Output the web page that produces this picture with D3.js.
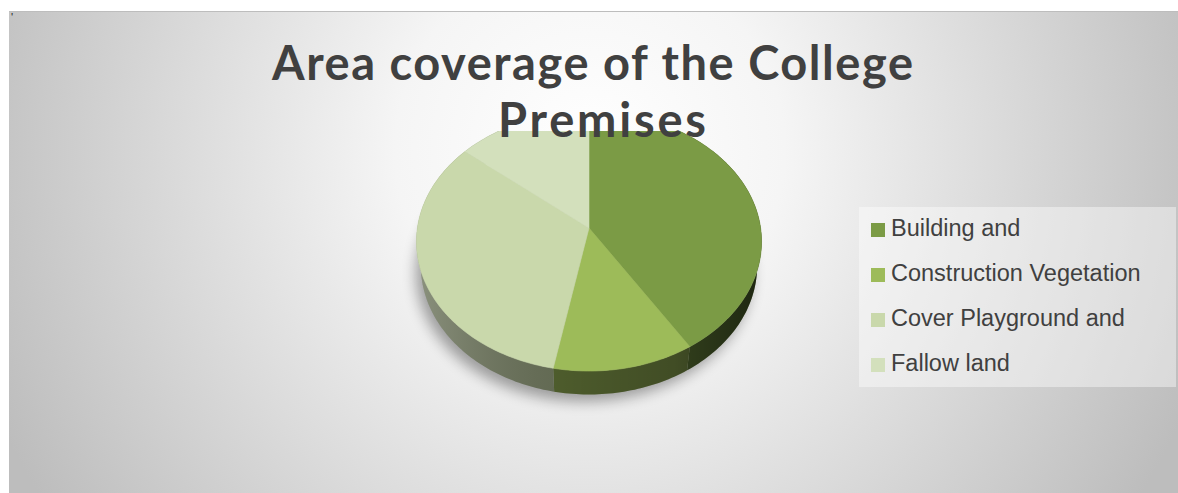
<!DOCTYPE html>
<html>
<head>
<meta charset="utf-8">
<script src="https://cdn.jsdelivr.net/npm/d3@7"></script>
<style>
  html, body { margin: 0; padding: 0; background: #ffffff; }
  svg { display: block; }
</style>
</head>
<body>
<svg id="chart" width="1178" height="493"></svg>
<script>
// ---- data ----
const categories = ["Building and", "Construction Vegetation", "Cover Playground and", "Fallow land"];
const values = [41, 12, 33, 14];
const titleLines = ["Area coverage of the College", "Premises"];

// ---- styles ----
const palette = ["#7b9b45", "#9dbb59", "#c9d8ab", "#d3e0bc"];
const textColor = "#404040";

const svg = d3.select("#chart");
const defs = svg.append("defs");

// chart area background: soft radial light
const bg = defs.append("radialGradient")
  .attr("id", "bgGrad").attr("gradientUnits", "userSpaceOnUse")
  .attr("cx", 590).attr("cy", 150).attr("r", 650);
bg.append("stop").attr("offset", 0).attr("stop-color", "#ffffff");
bg.append("stop").attr("offset", 0.3).attr("stop-color", "#f5f5f5");
bg.append("stop").attr("offset", 1).attr("stop-color", "#bdbdbd");

svg.append("rect").attr("x", 9).attr("y", 11).attr("width", 1169).attr("height", 482)
  .attr("fill", "url(#bgGrad)");
svg.append("line").attr("x1", 9).attr("x2", 1178).attr("y1", 11.5).attr("y2", 11.5)
  .attr("stroke", "#bdbdbd").attr("stroke-width", 1);
svg.append("text").attr("x", 11).attr("y", 21).attr("font-size", 11)
  .attr("font-family", "Liberation Sans, sans-serif").attr("fill", "#222").text("'");

// ---- 3D pie projection ----
const cx = 589, cy = 228;      // projected centre of the top face
const R = 171.6;               // radius
const tilt = 48.3 * Math.PI / 180;
const camDist = 1094;
const depth = 38;              // thickness of the pie

function project(theta, r, h) {
  const u = -r * Math.cos(theta);          // toward viewer is positive
  const x3 = r * Math.sin(theta);
  const s = camDist / (camDist - u * Math.cos(tilt) + h * Math.sin(tilt));
  return [cx + x3 * s, cy + (u * Math.sin(tilt) + h * Math.cos(tilt)) * s];
}

function arcPoints(a0, a1, h) {
  const n = Math.max(4, Math.ceil(Math.abs(a1 - a0) / 0.02));
  return d3.range(n + 1).map(i => project(a0 + (a1 - a0) * i / n, R, h));
}

const color = d3.scaleOrdinal().domain(categories).range(palette);
const pie = d3.pie().sort(null).value(d => d.value);
const slices = pie(categories.map((c, i) => ({ name: c, value: values[i] })));
const line = d3.line();

// soft shadow under the pie
const blur = defs.append("filter").attr("id", "shadowBlur")
  .attr("x", "-30%").attr("y", "-30%").attr("width", "160%").attr("height", "160%");
blur.append("feGaussianBlur").attr("stdDeviation", 7);

const shadowPts = arcPoints(0, 2 * Math.PI, depth).map(p => [p[0] - 5, p[1] + 7]);
svg.append("path").attr("d", line(shadowPts) + "Z")
  .attr("fill", "#000").attr("opacity", 0.35).attr("filter", "url(#shadowBlur)");

// side walls
const sideShade = defs.append("linearGradient")
  .attr("id", "sideShade").attr("gradientUnits", "userSpaceOnUse")
  .attr("x1", cx - R).attr("x2", cx + R).attr("y1", 0).attr("y2", 0);
sideShade.append("stop").attr("offset", 0).attr("stop-color", "#ffffff").attr("stop-opacity", 0.2);
sideShade.append("stop").attr("offset", 0.4).attr("stop-color", "#000000").attr("stop-opacity", 0.1);
sideShade.append("stop").attr("offset", 0.75).attr("stop-color", "#000000").attr("stop-opacity", 0.25);
sideShade.append("stop").attr("offset", 1).attr("stop-color", "#000000").attr("stop-opacity", 0.55);

const sides = svg.append("g");
slices.forEach(s => {
  const top = arcPoints(s.startAngle, s.endAngle, 0);
  const bot = arcPoints(s.startAngle, s.endAngle, depth).reverse();
  const d = line(top.concat(bot)) + "Z";
  sides.append("path").attr("d", d)
    .attr("fill", d3.color(color(s.data.name)).darker(1.7));
  sides.append("path").attr("d", d).attr("fill", "url(#sideShade)");
});

// top faces
const tops = svg.append("g");
slices.forEach(s => {
  const pts = [project(0, 0, 0)].concat(arcPoints(s.startAngle, s.endAngle, 0));
  tops.append("path").attr("d", line(pts) + "Z")
    .attr("fill", color(s.data.name))
    .attr("stroke", color(s.data.name)).attr("stroke-width", 0.6);
});

// ---- title (its box shares the chart background) ----
svg.append("rect").attr("x", 262).attr("y", 28).attr("width", 662).attr("height", 103)
  .attr("fill", "url(#bgGrad)");
const title = svg.append("g")
  .attr("font-family", "Lato, 'Liberation Sans', sans-serif")
  .attr("font-weight", "bold").attr("font-size", 47).attr("fill", textColor);
const titlePos = [{ x: 272, y: 80, w: 641 }, { x: 498, y: 137, w: 208 }];
titleLines.forEach((t, i) => {
  title.append("text").attr("x", titlePos[i].x).attr("y", titlePos[i].y)
    .attr("textLength", titlePos[i].w).attr("lengthAdjust", "spacing").text(t);
});

// ---- legend ----
const legend = svg.append("g");
legend.append("rect").attr("x", 859).attr("y", 207).attr("width", 317).attr("height", 180)
  .attr("fill", "#ffffff").attr("opacity", 0.42);
const rowY = d3.scalePoint().domain(categories).range([223, 358]);
const items = legend.selectAll("g.item").data(categories).join("g").attr("class", "item")
  .attr("transform", d => `translate(871,${rowY(d)})`);
items.append("rect").attr("width", 14).attr("height", 14).attr("fill", d => color(d));
items.append("text").attr("x", 20).attr("y", 13)
  .attr("font-family", "'Liberation Sans', Arial, sans-serif").attr("font-size", 23.5)
  .attr("fill", textColor).text(d => d);
</script>
</body>
</html>
